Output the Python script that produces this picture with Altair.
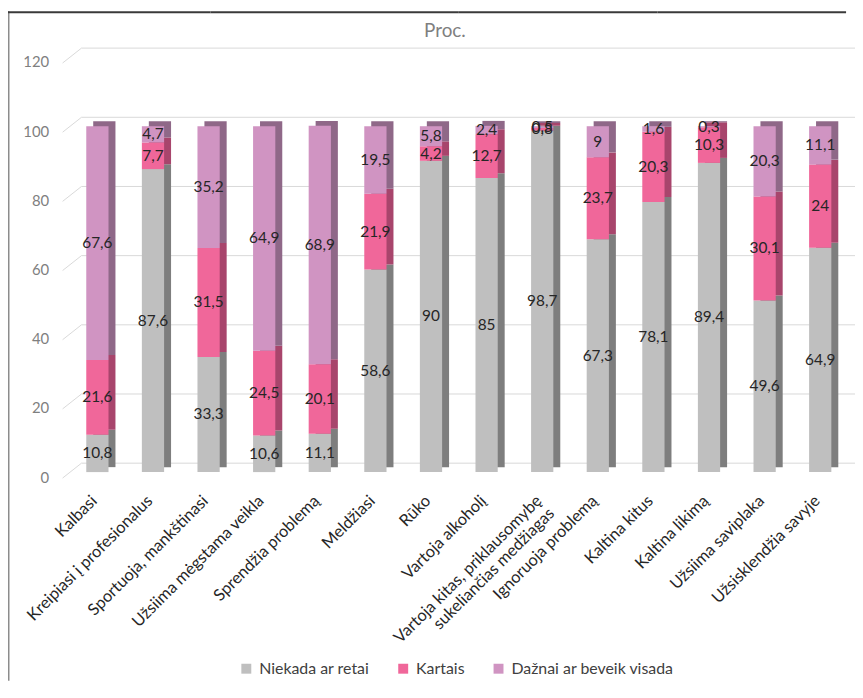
import altair as alt
import pandas as pd

cats = [
    "Kalbasi",
    "Kreipiasi į profesionalus",
    "Sportuoja, mankštinasi",
    "Užsiima mėgstama veikla",
    "Sprendžia problemą",
    "Meldžiasi",
    "Rūko",
    "Vartoja alkoholį",
    "Vartoja kitas, priklausomybę\nsukeliančias medžiagas",
    "Ignoruoja problemą",
    "Kaltina kitus",
    "Kaltina likimą",
    "Užsiima saviplaka",
    "Užsisklendžia savyje",
]
series = ["Niekada ar retai", "Kartais", "Dažnai ar beveik visada"]
never = [10.8, 87.6, 33.3, 10.6, 11.1, 58.6, 90, 85, 98.7, 67.3, 78.1, 89.4, 49.6, 64.9]
sometimes = [21.6, 7.7, 31.5, 24.5, 20.1, 21.9, 4.2, 12.7, 0.8, 23.7, 20.3, 10.3, 30.1, 24]
often = [67.6, 4.7, 35.2, 64.9, 68.9, 19.5, 5.8, 2.4, 0.5, 9, 1.6, 0.3, 20.3, 11.1]
ticks = [0, 20, 40, 60, 80, 100, 120]
title_text = ["Proc."]

front_colors = ["#bfbfbf", "#f0679a", "#d094c2"]
dark_colors = ["#7e7e7e", "#a8456c", "#8f6888"]

rows = []
for i, c in enumerate(cats):
    for s, (name, vals) in enumerate(zip(series, [never, sometimes, often])):
        rows.append({"cat": c, "series": name, "s": s, "value": vals[i]})
df = pd.DataFrame(rows)

FONT = "Lato"

xscale = alt.Scale(paddingInner=0.6, paddingOuter=0.354, align=0.626)
xaxis = alt.Axis(
    title=None, domain=False, ticks=False, labelAngle=-45, labelAlign="right",
    labelBaseline="middle", labelPadding=26, labelOffset=-3, labelFontSize=16.5,
    labelColor="#262626", labelFont=FONT, labelExpr="split(datum.label, '\\n')",
    labelLineHeight=18, labelLimit=400,
)
yscale = alt.Scale(domain=[0, 120], nice=False)
yaxis = alt.Axis(
    title=None, values=ticks, grid=False, domain=False, ticks=False,
    labelPadding=13, labelOffset=5, labelFontSize=15, labelColor="#7f7f7f", labelFont=FONT,
)

x_enc = alt.X("cat:N", sort=cats, scale=xscale, axis=xaxis)

base = alt.Chart(df).transform_stack(
    stack="value", groupby=["cat"], as_=["v0", "v1"],
    sort=[alt.SortField("s", order="ascending")],
).transform_calculate(
    mid="(datum.v0 + datum.v1) / 2",
    lab="replace(toString(datum.value), '.', ',')",
)

back = base.mark_bar(xOffset=7, yOffset=-5, y2Offset=-5).encode(
    x=x_enc,
    y=alt.Y("v0:Q", scale=yscale, axis=yaxis),
    y2="v1:Q",
    color=alt.Color("series:N", scale=alt.Scale(domain=series, range=dark_colors), legend=None),
)

front = base.mark_bar().encode(
    x=x_enc,
    y=alt.Y("v0:Q", scale=yscale, axis=yaxis),
    y2="v1:Q",
    color=alt.Color(
        "series:N",
        scale=alt.Scale(domain=series, range=front_colors),
        legend=alt.Legend(
            title=None, orient="none", direction="horizontal", legendX=178, legendY=608,
            symbolType="square", symbolSize=100, symbolStrokeWidth=0, labelFontSize=16,
            labelFont=FONT, labelColor="#404040", columnPadding=26, labelOffset=5, padding=0,
            labelLimit=300,
        ),
    ),
)

text = base.mark_text(font=FONT, fontSize=15.5, color="#262626", baseline="middle", align="center").encode(
    x=x_enc,
    y=alt.Y("mid:Q", scale=yscale, axis=yaxis),
    text="lab:N",
)

grid_df = pd.DataFrame({"tick": ticks})
grid_h = alt.Chart(grid_df).mark_rule(color="#d9d9d9", yOffset=-9).encode(
    x=alt.value(20), x2=alt.value(799),
    y=alt.Y("tick:Q", scale=yscale, axis=yaxis),
)
grid_d = alt.Chart(grid_df).mark_rule(color="#d9d9d9", yOffset=6, y2Offset=-9).encode(
    x=alt.value(1), x2=alt.value(20),
    y=alt.Y("tick:Q", scale=yscale, axis=yaxis), y2="tick:Q",
)

title_layer = alt.Chart(pd.DataFrame({"t": title_text})).mark_text(
    font=FONT, fontSize=19, color="#7f7f7f", align="center", baseline="alphabetic",
).encode(text="t:N", x=alt.value(386), y=alt.value(-20))

frame_df = pd.DataFrame({"k": [0]})
frame_left = alt.Chart(frame_df).mark_rect(color="#8c8c8c").encode(
    x=alt.value(-54), x2=alt.value(-52.5), y=alt.value(-46), y2=alt.value(628),
)
frame_top_parts = [
    alt.Chart(frame_df).mark_rect(color="#3a3a3a").encode(
        x=alt.value(a), x2=alt.value(b), y=alt.value(-46), y2=alt.value(-44),
    )
    for a, b in [(-54, 150), (150, 400), (400, 600), (600, 790)]
]

chart = alt.layer(
    grid_d, grid_h, back, front, text, title_layer, frame_left, *frame_top_parts
).resolve_scale(
    color="independent"
).properties(
    width=790,
    height=418,
    autosize=alt.AutoSizeParams(type="none"),
    padding={"left": 54, "top": 47, "right": 9, "bottom": 210},
).configure_view(stroke=None)

chart.save("out.html", embed_options={"renderer": "svg", "actions": False})
